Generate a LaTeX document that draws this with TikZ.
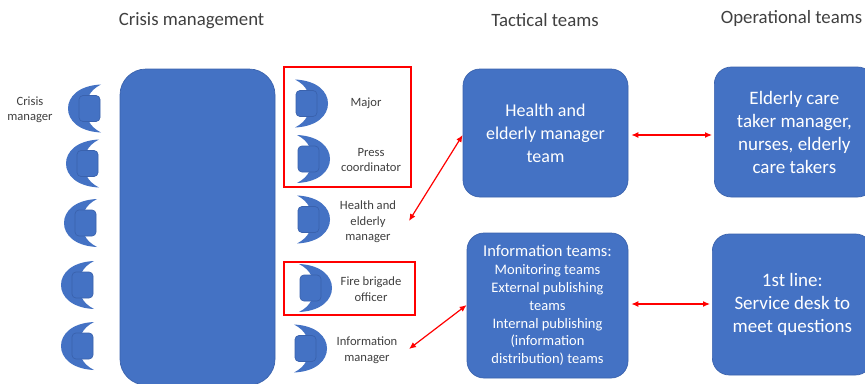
\documentclass[tikz,border=0pt]{standalone}
\usepackage{fontspec}
\setmainfont{Carlito}
\definecolor{bluefill}{HTML}{4472C4}
\definecolor{blueedge}{HTML}{3A62AD}
\definecolor{txt}{HTML}{404040}
\definecolor{redline}{HTML}{FF0000}
\usetikzlibrary{arrows.meta}
\tikzset{
  team/.style={fill=bluefill,draw=blueedge,line width=0.7pt,text=white,align=center,inner sep=0pt},
  title/.style={text=txt,font=\fontsize{18.8}{22}\selectfont,anchor=center,inner sep=0pt},
  who/.style={text=txt,font=\fontsize{12.6}{15.5}\selectfont,align=center,inner sep=0pt},
  group/.style={draw=redline,line width=1.2pt,inner sep=0pt},
  link/.style={draw=redline,line width=1.2pt,{Latex[length=7pt,width=6pt]}-{Latex[length=7pt,width=6pt]}},
  crescent/.style={fill=bluefill,draw=none},
  seat/.style={fill=bluefill,draw=blueedge,line width=0.7pt,rounded corners=4pt},
}
% #1 x of the tips, #2 y of the middle, #3 +1 back on the right, -1 back on the left
\newcommand{\chairshape}[3]{%
  \begin{scope}[shift={(#1,#2)},xscale=#3]
    \path[crescent] (0,-24) .. controls (22,-23) and (33,-12) .. (33,0)
      .. controls (33,12) and (22,23) .. (0,24)
      .. controls (6,21) and (10,17) .. (12,13) -- (12,-13)
      .. controls (10,-17) and (6,-21) .. (0,-24) -- cycle;
    \path[seat] (1,-13) rectangle (22,13);
  \end{scope}}
\begin{document}
\begin{tikzpicture}[x=1pt,y=-1pt]
\useasboundingbox (0,0) rectangle (865,383);
\clip (0,0) rectangle (865,383);
\fill[white] (0,0) rectangle (865,383);
% titles
\node[title] (tcrisis) at (191.5,20.5) {Crisis management};
\node[title] (ttact) at (545,20.5) {Tactical teams};
\node[title] (toper) at (791.5,18.5) {Operational teams};
% big boxes
\node[team,rounded corners=26pt,minimum width=155pt,minimum height=316pt] (board) at (197.5,227) {};
\node[team,rounded corners=17pt,minimum width=165pt,minimum height=128pt,font=\fontsize{18}{23}\selectfont] (health) at (545.5,133) {Health and\\elderly manager\\team};
\node[team,rounded corners=17pt,minimum width=161pt,minimum height=145pt,font=\fontsize{14.5}{17.8}\selectfont] (info) at (547.5,305.5) {\fontsize{16.5}{18}\selectfont Information teams:\\Monitoring teams\\External publishing\\teams\\Internal publishing\\(information\\distribution) teams};
\node[team,rounded corners=17pt,minimum width=160pt,minimum height=130pt,font=\fontsize{19}{23}\selectfont,anchor=west] (elder) at (714,132) {Elderly care\\taker manager,\\nurses, elderly\\care takers};
\node[team,rounded corners=17pt,minimum width=160pt,minimum height=141pt,anchor=west,font=\fontsize{19}{23}\selectfont] (first) at (712,304.5) {1st line:\\Service desk to\\meet questions};
% red groups
\node[group,minimum width=127pt,minimum height=120pt] (gtop) at (347.5,127) {};
\node[group,minimum width=131pt,minimum height=53pt] (gfire) at (349.5,288.5) {};
% left chairs
\chairshape{101}{108.5}{-1}
\chairshape{99}{163.5}{-1}
\chairshape{97}{223}{-1}
\chairshape{94}{285}{-1}
\chairshape{94}{346}{-1}
% right chairs
\chairshape{295}{103.5}{1}
\chairshape{297}{159}{1}
\chairshape{297}{219.5}{1}
\chairshape{299}{288}{1}
\chairshape{294}{348.5}{1}
% labels
\node[who] (lcrisis) at (30,109.5) {Crisis\\manager};
\node[who] (lmajor) at (366,103) {Major};
\node[who] (lpress) at (371,160) {Press\\coordinator};
\node[who] (lhealth) at (368,222) {Health and\\elderly\\manager};
\node[who] (lfire) at (371,289) {Fire brigade\\officer};
\node[who] (linfo) at (367,350) {Information\\manager};
% connectors
\coordinate (ahealth) at (409,221);
\coordinate (ainfo) at (409,349);
\draw[link] (ahealth) -- (health.west |- 0,135);
\draw[link] (ainfo) -- (info.west |- 0,305);
\coordinate (h1) at ([xshift=3pt]health.east |- 0,135);
\coordinate (e1) at ([xshift=-2pt]elder.west |- 0,135);
\coordinate (i1) at ([xshift=3pt]info.east |- 0,304);
\coordinate (f1) at ([xshift=-2pt]first.west |- 0,304);
\draw[link] (h1) -- (e1);
\draw[link] (i1) -- (f1);
\end{tikzpicture}
\end{document}
